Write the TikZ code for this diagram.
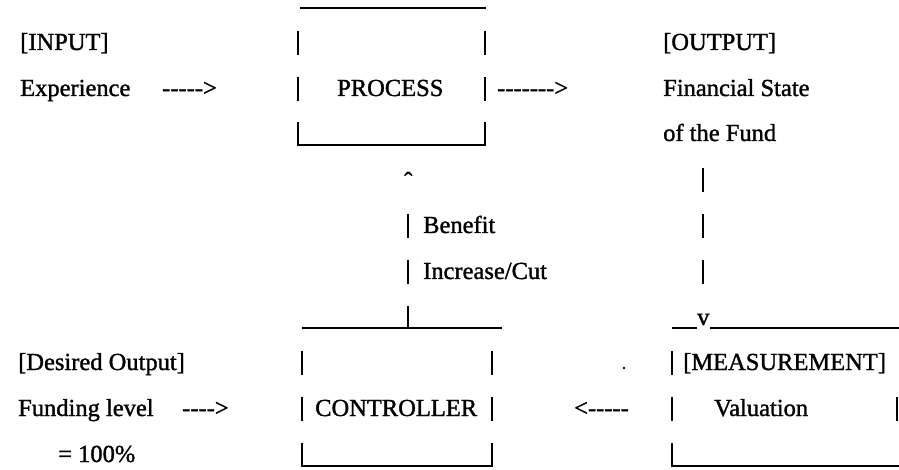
\documentclass[tikz,border=0pt]{standalone}
\usepackage{fontspec}
\setmainfont{Liberation Serif}[FakeBold=1.3]
\begin{document}
\begin{tikzpicture}[x=1pt,y=-1pt,
  lbl/.style={anchor=base west,inner sep=0pt,font=\fontsize{24.5}{28}\selectfont},
  barln/.style={line width=1.6pt},
  ruleln/.style={line width=2pt}]
\useasboundingbox (0,0) rectangle (899,470);
% row baselines: R0 4, R1 50, R2 96, R3 141, R4 187, R5 233, R6 279, R7 325, R8 370, R9 416, R10 462
% ---------- PROCESS box
\draw[ruleln] (300,8) -- (486,8);
\foreach \x in {298,485}{
  \draw[barln] (\x,31) -- ++(0,24);
  \draw[barln] (\x,77) -- ++(0,24);
  \draw[barln] (\x,122) -- ++(0,24);
}
\draw[ruleln] (299,145) -- (485,145);
\node[lbl] (process) at (337,96) {PROCESS};
% ---------- input
\node[lbl] (input) at (20,50) {[INPUT]};
\node[lbl] (exp) at (20,96) {Experience};
\node[lbl] (arrin) at (162,96) {-{}-{}-{}-{}-{}>};
\node[lbl] (arrout) at (497,96) {-{}-{}-{}-{}-{}-{}-{}>};
% ---------- output
\node[lbl] (output) at (663,50) {[OUTPUT]};
\node[lbl] (fin) at (663,96) {Financial State};
\node[lbl] (fund) at (663,141) {of the Fund};
\foreach \y in {168,214,260}{\draw[barln] (703,\y) -- ++(0,24);}
% ---------- feedback to process
\node[lbl] (caret) at (404,189) {ˆ};
\draw[barln] (408,214) -- ++(0,24);
\node[lbl] (benefit) at (423,233) {Benefit};
\draw[barln] (408,260) -- ++(0,24);
\node[lbl] (incr) at (423,279) {Increase/Cut};
\draw[ruleln] (302,328) -- (502,328);
\draw[barln] (408,306) -- (408,329);
% ---------- measurement top
\draw[ruleln] (672,328) -- (697,328);
\node[lbl] (v) at (697,325) {v};
\draw[ruleln] (710,328) -- (899,328);
% ---------- CONTROLLER box
\foreach \x in {302,492}{
  \draw[barln] (\x,351) -- ++(0,24);
  \draw[barln] (\x,397) -- ++(0,24);
  \draw[barln] (\x,443) -- ++(0,24);
}
\draw[ruleln] (302,466) -- (492,466);
\node[lbl] (ctrl) at (315,416) {CONTROLLER};
\node[lbl] (desired) at (18,370) {[Desired Output]};
\node[lbl] (funding) at (18,416) {Funding level};
\node[lbl] (arrdes) at (182,416) {-{}-{}-{}-{}>};
\node[lbl] (pct) at (58,462) {= 100\%};
\fill (624,368) circle (1.4);
\node[lbl] (arrback) at (574,416) {<-{}-{}-{}-{}-};
% ---------- MEASUREMENT box
\draw[barln] (672,351) -- ++(0,24);
\draw[barln] (672,397) -- ++(0,24);
\draw[barln] (897,397) -- ++(0,24);
\draw[barln] (672,443) -- ++(0,24);
\draw[ruleln] (673,466) -- (899,466);
\node[lbl] (meas) at (683,370) {[MEASUREMENT]};
\node[lbl] (val) at (714,416) {Valuation};
\end{tikzpicture}
\end{document}
